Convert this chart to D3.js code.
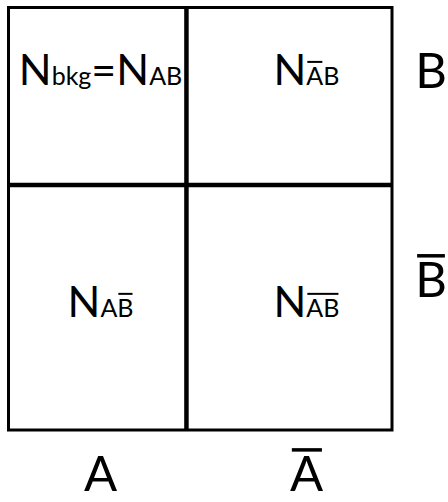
<!DOCTYPE html>
<html>
<head>
<meta charset="utf-8">
<script src="https://cdn.jsdelivr.net/npm/d3@7"></script>
<style>
  body { margin: 0; background: #fff; }
  text { font-family: Lato, 'Noto Sans', sans-serif; fill: #000; }
</style>
</head>
<body>
<svg width="448" height="502"></svg>
<script>
// categories along each axis (bar = the "not" version)
const colNames = ['A', 'A']
const colBars = [false, true]
const rowNames = ['B', 'B']
const rowBars = [false, true]

// text of each cell, split into pieces: sub = subscript, bar = overline
const cellCols = [0, 1, 0, 1]
const cellRows = [0, 0, 1, 1]
const cellParts = [
  [{t: 'N'}, {t: 'bkg', sub: true}, {t: '='}, {t: 'N'}, {t: 'AB', sub: true}],
  [{t: 'N'}, {t: 'A', sub: true, bar: true}, {t: 'B', sub: true}],
  [{t: 'N'}, {t: 'A', sub: true}, {t: 'B', sub: true, bar: true}],
  [{t: 'N'}, {t: 'AB', sub: true, bar: true}]
]

const svg = d3.select('svg')

// box is drawn on a unit square, split a bit left of / above the middle
const x = d3.scaleLinear().domain([0, 1]).range([8.5, 392])
const y = d3.scaleLinear().domain([0, 1]).range([7.5, 430])
const colEdges = [0, 0.464, 1]
const rowEdges = [0, 0.42, 1]
const colText = [0.24, 0.777]   // where the cell text / column labels sit
const rowText = [0.183, 0.732]  // baselines of cell text
const rowLabelBase = [0.19, 0.685]

const bigSize = 43, subSize = 25, labelSize = 49
const capH = 0.7165

// outer frame
svg.append('rect')
  .attr('x', x(0)).attr('y', y(0))
  .attr('width', x(1) - x(0)).attr('height', y(1) - y(0))
  .attr('fill', 'none').attr('stroke', '#000').attr('stroke-width', 3)

// inner dividers
svg.append('line')
  .attr('x1', x(colEdges[1])).attr('x2', x(colEdges[1]))
  .attr('y1', y(0)).attr('y2', y(1))
  .attr('stroke', '#000').attr('stroke-width', 4.5)
svg.append('line')
  .attr('x1', x(0)).attr('x2', x(1))
  .attr('y1', y(rowEdges[1])).attr('y2', y(rowEdges[1]))
  .attr('stroke', '#000').attr('stroke-width', 4.5)

// draws an overline above every tspan flagged with bar
function addBars(textSel, baseline) {
  textSel.selectAll('tspan').each(function(d) {
    if (!d.bar) return
    const bb = this.getBBox()
    const size = d.sub ? subSize : labelSize
    const thick = d.sub ? 2 : 3.5
    const yy = baseline - capH * size - (d.sub ? 5 : 6)
    svg.append('rect')
      .attr('x', bb.x + size * 0.04)
      .attr('y', yy - thick / 2)
      .attr('width', bb.width - size * 0.08)
      .attr('height', thick)
  })
}

// cell labels
cellParts.forEach((parts, i) => {
  const base = y(rowText[cellRows[i]])
  const t = svg.append('text')
    .attr('x', x(colText[cellCols[i]]))
    .attr('y', base)
    .attr('text-anchor', 'middle')
  t.selectAll('tspan')
    .data(parts)
    .enter()
    .append('tspan')
    .attr('font-size', d => d.sub ? subSize : bigSize)
    .text(d => d.t)
  addBars(t, base)
})

// column labels under the box
colNames.forEach((name, i) => {
  const base = 491
  const t = svg.append('text')
    .attr('x', x(colText[i]))
    .attr('y', base)
    .attr('text-anchor', 'middle')
  t.selectAll('tspan')
    .data([{t: name, bar: colBars[i]}])
    .enter()
    .append('tspan')
    .attr('font-size', labelSize)
    .text(d => d.t)
  addBars(t, base)
})

// row labels right of the box
rowNames.forEach((name, i) => {
  const base = y(rowLabelBase[i])
  const t = svg.append('text')
    .attr('x', 431)
    .attr('y', base)
    .attr('text-anchor', 'middle')
  t.selectAll('tspan')
    .data([{t: name, bar: rowBars[i]}])
    .enter()
    .append('tspan')
    .attr('font-size', labelSize)
    .text(d => d.t)
  addBars(t, base)
})
</script>
</body>
</html>
